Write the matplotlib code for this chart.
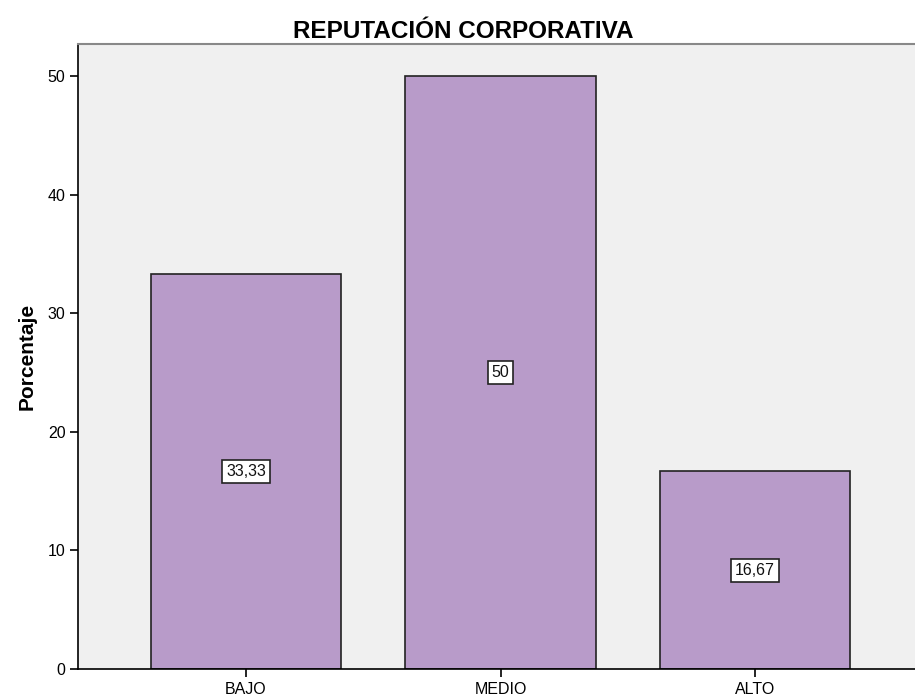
import matplotlib
matplotlib.use("Agg")
import matplotlib.pyplot as plt

categories = ["BAJO", "MEDIO", "ALTO"]
values = [33.33, 50, 16.67]
value_labels = ["33,33", "50", "16,67"]
yticks = [0, 10, 20, 30, 40, 50]

plt.rcParams['font.family'] = ['Liberation Sans', 'DejaVu Sans']

fig = plt.figure(figsize=(9.15, 6.97), dpi=100)
ax = fig.add_axes([78/915, 28/697, (923-78)/915, (669-44)/697])
ax.set_facecolor('#F0F0F0')

x = list(range(len(categories)))
ax.bar(x, values, width=0.75, color='#B89BC9', edgecolor='#222222', linewidth=1.2, zorder=2)
for xi, v, lab in zip(x, values, value_labels):
    ax.text(xi, v / 2, lab, ha='center', va='center', fontsize=11.5, color='#111111', zorder=3,
            bbox=dict(boxstyle='square,pad=0.25', facecolor='white', edgecolor='#222222', linewidth=1.2))

ax.set_xlim(-0.66, 2.66)
ax.set_ylim(0, 52.7)
ax.set_xticks(x)
ax.set_xticklabels(categories, fontsize=11.5)
ax.set_yticks(yticks)
ax.set_yticklabels([str(t) for t in yticks], fontsize=11.5)
ax.tick_params(axis='both', direction='out', length=6, width=1.2, color='black', pad=3)
for s in ['left', 'bottom']:
    ax.spines[s].set_color('black')
    ax.spines[s].set_linewidth(1.2)
ax.spines['top'].set_color('#888888')
ax.spines['top'].set_linewidth(1.5)
ax.spines['right'].set_visible(False)

ax.set_ylabel('Porcentaje', fontsize=15, fontweight='bold', labelpad=8)
fig.text(463/915, 1 - 31/697, 'REPUTACIÓN CORPORATIVA', ha='center', va='center',
         fontsize=17.5, fontweight='bold')

fig.savefig('out.png', dpi=100)
